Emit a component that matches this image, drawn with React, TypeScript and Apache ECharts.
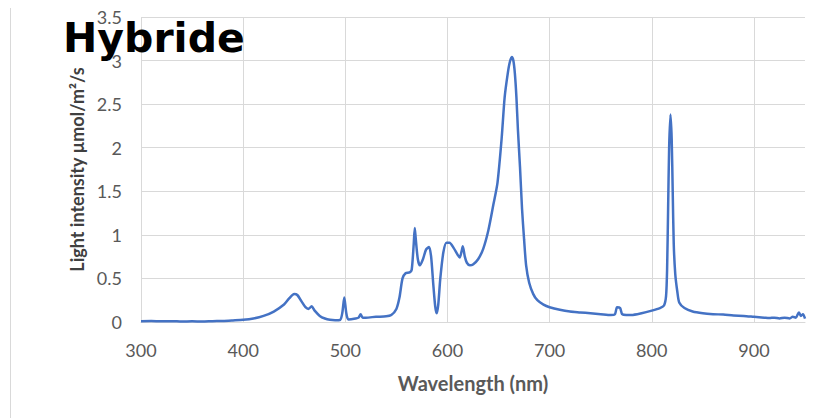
import React, { useEffect, useRef } from "react";
import * as echarts from "echarts";

const wavelengths = [
  300, 310, 320, 330, 340, 350, 360, 370, 380, 390, 400, 410, 420, 430, 440, 445, 450, 453, 457, 461,
  464, 467, 470, 475, 480, 485, 490, 495, 497, 499, 501, 503, 510, 513, 515, 517, 520, 530, 540, 545,
  550, 553, 556, 559, 563, 565, 567, 568, 569, 571, 573, 576, 579, 582, 584, 586, 588, 589.5, 591, 593,
  596, 599, 602, 606, 610, 612, 614, 615, 617, 619, 622, 625, 630, 635, 640, 645, 649, 653, 656, 659,
  661, 663, 664.5, 666, 667.5, 669, 671, 673, 675, 677, 680, 684, 688, 694, 700, 710, 720, 730, 740, 750,
  760, 764, 766, 769, 771, 775, 780, 790, 800, 808, 812, 814, 815, 816, 817, 818.3, 819.5, 820.5, 821.5, 823,
  825, 827, 832, 840, 850, 860, 870, 880, 890, 900, 905, 910, 915, 920, 925, 930, 935, 938, 941, 944,
  946, 948, 950,
];
const intensities = [
  0.01, 0.012, 0.008, 0.01, 0.005, 0.008, 0.006, 0.01, 0.012, 0.018, 0.025, 0.04, 0.07, 0.12, 0.2, 0.27, 0.32, 0.31, 0.24, 0.17,
  0.15, 0.18, 0.13, 0.07, 0.04, 0.025, 0.02, 0.025, 0.1, 0.28, 0.1, 0.03, 0.04, 0.05, 0.09, 0.05, 0.05, 0.06, 0.065, 0.08,
  0.15, 0.28, 0.5, 0.56, 0.57, 0.6, 0.9, 1.08, 0.95, 0.72, 0.65, 0.72, 0.83, 0.86, 0.75, 0.45, 0.18, 0.1, 0.2, 0.5,
  0.8, 0.91, 0.91, 0.85, 0.77, 0.74, 0.82, 0.87, 0.75, 0.68, 0.65, 0.66, 0.72, 0.84, 1.05, 1.35, 1.6, 2.1, 2.58, 2.85,
  2.98, 3.04, 3.0, 2.85, 2.58, 2.2, 1.78, 1.3, 0.95, 0.65, 0.45, 0.32, 0.25, 0.2, 0.17, 0.14, 0.12, 0.11, 0.1, 0.09,
  0.08, 0.09, 0.17, 0.16, 0.09, 0.08, 0.08, 0.1, 0.13, 0.16, 0.19, 0.3, 0.6, 1.3, 2.0, 2.38, 2.1, 1.5, 0.9, 0.55,
  0.35, 0.22, 0.16, 0.12, 0.1, 0.09, 0.085, 0.075, 0.07, 0.06, 0.055, 0.05, 0.045, 0.05, 0.04, 0.05, 0.04, 0.06, 0.05, 0.11,
  0.07, 0.09, 0.04,
];

const titleText = "Hybride";
const xAxisName = "Wavelength (nm)";
const yAxisName = "Light intensity µmol/m²/s";

export default function App() {
  const ref = useRef<HTMLDivElement>(null);
  useEffect(() => {
    if (!ref.current) return;
    const chart = echarts.init(ref.current, undefined, { renderer: "svg" });
    const grid = "#d9d9d9";
    chart.setOption({
      animation: false,
      title: {
        text: titleText,
        left: 55,
        top: 9,
        padding: 0,
        z: 10,
        textStyle: { fontFamily: "DejaVu Sans", fontWeight: "bold", fontSize: 41, color: "#000" },
      },
      graphic: [
        { type: "line", shape: { x1: 2.5, y1: -8, x2: 2.5, y2: 410 }, style: { stroke: grid, lineWidth: 1 } },
      ],
      grid: { left: 133, right: 10, top: 8, bottom: 96 },
      xAxis: {
        type: "value",
        min: 300,
        max: 950,
        interval: 100,
        name: xAxisName,
        nameLocation: "middle",
        nameGap: 51,
        nameTextStyle: { fontFamily: "Lato", fontWeight: "bold", fontSize: 20, color: "#595959" },
        axisLine: { show: true, lineStyle: { color: grid, width: 1 } },
        axisTick: { show: false },
        axisLabel: {
          margin: 19,
          fontFamily: "Lato",
          fontSize: 18,
          color: "#595959",
          formatter: (v: number) => (v === 950 ? "" : String(v)),
        },
        splitLine: {
          show: true,
          lineStyle: { color: [grid, grid, grid, grid, grid, grid, grid, "rgba(0,0,0,0)"], width: 1 },
        },
      },
      yAxis: {
        type: "value",
        min: 0,
        max: 3.5,
        interval: 0.5,
        name: yAxisName,
        nameLocation: "middle",
        nameGap: 55,
        nameTextStyle: { fontFamily: "Lato", fontWeight: "bold", fontSize: 18, color: "#404040" },
        axisLine: { show: false },
        axisTick: { show: false },
        axisLabel: { margin: 19, fontFamily: "Lato", fontSize: 18, color: "#595959" },
        splitLine: { show: true, lineStyle: { color: grid, width: 1 } },
      },
      series: [
        {
          type: "line",
          data: wavelengths.map((w, i) => [w, intensities[i]]),
          showSymbol: false,
          smooth: 0.25,
          lineStyle: { color: "#4472C4", width: 2.5 },
          z: 3,
        },
      ],
    });
    return () => chart.dispose();
  }, []);
  return <div ref={ref} style={{ width: 807, height: 410 }} />;
}
